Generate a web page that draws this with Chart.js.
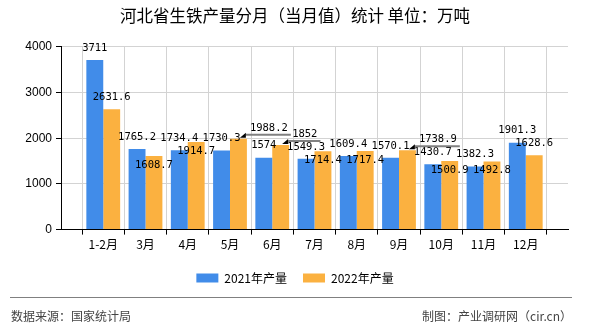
<!DOCTYPE html>
<html><head><meta charset="utf-8">
<script src="https://cdn.jsdelivr.net/npm/chart.js@4/dist/chart.umd.min.js"></script>
<style>html,body{margin:0;padding:0;background:#fff}#wrap{width:590px;height:330px;position:relative}</style>
</head><body><div id="wrap"><canvas id="c" width="590" height="330"></canvas></div>
<script>
const categories = ['1-2月','3月','4月','5月','6月','7月','8月','9月','10月','11月','12月'];
const output2021 = [3711,1765.2,1734.4,1730.3,1574,1549.3,1609.4,1570.1,1430.7,1382.3,1901.3];
const output2022 = [2631.6,1608.7,1914.7,1988.2,1852,1714.4,1717.4,1738.9,1500.9,1492.8,1628.6];
const seriesNames = ['2021年产量','2022年产量'];
const yTicks = [0,1000,2000,3000,4000];
const titleText = '河北省生铁产量分月（当月值）统计 单位：万吨';
const sourceText = '数据来源：国家统计局';
const creditText = '制图：产业调研网（cir.cn）';
const labelPlace2021 = categories.map(() => 'above');
const labelPlace2022 = ['above','inside','inside','leader','leader','inside','inside','leader','inside','inside','above'];

const cjk = '"Noto Sans CJK SC", "Liberation Sans", sans-serif';
const axisLabels = [''].concat(categories, ['']);
const pad = arr => [null].concat(arr, [null]);

const valueLabels = {
  id: 'valueLabels',
  afterDatasetsDraw(chart, args, opts) {
    const ctx = chart.ctx;
    ctx.save();
    ctx.font = '10.5px "DejaVu Sans Mono", monospace';
    ctx.fillStyle = '#000';
    ctx.textBaseline = 'middle';
    chart.data.datasets.forEach((ds, di) => {
      const meta = chart.getDatasetMeta(di);
      const places = opts.places[di];
      meta.data.forEach((bar, i) => {
        const v = ds.data[i];
        if (v == null) return;
        const mode = places[i - 1];
        const txt = String(v);
        const p = bar.getProps(['x', 'y', 'width'], true);
        if (mode === 'above') {
          ctx.textAlign = 'center';
          ctx.fillText(txt, p.x, p.y - 12);
        } else if (mode === 'inside') {
          ctx.textAlign = 'center';
          ctx.fillText(txt, p.x, p.y + 9);
        } else {
          const cx = p.x + p.width / 2;
          const tw = ctx.measureText(txt).width;
          const lx = cx + 3;
          const ly = p.y - 4;
          ctx.strokeStyle = '#808080';
          ctx.lineWidth = 2;
          ctx.beginPath();
          ctx.moveTo(cx - 1, ly);
          ctx.lineTo(lx + tw + 3, ly);
          ctx.stroke();
          ctx.fillStyle = '#000';
          ctx.beginPath();
          ctx.moveTo(cx - 7, p.y - 1);
          ctx.lineTo(cx - 1, p.y - 6);
          ctx.lineTo(cx - 1, p.y - 1);
          ctx.closePath();
          ctx.fill();
          ctx.textAlign = 'left';
          ctx.fillText(txt, lx, ly - 6.5);
        }
      });
    });
    ctx.restore();
  }
};

const footer = {
  id: 'footer',
  afterDraw(chart) {
    const ctx = chart.ctx;
    ctx.save();
    ctx.strokeStyle = '#808080';
    ctx.lineWidth = 1;
    ctx.beginPath();
    ctx.moveTo(10, 297.5);
    ctx.lineTo(572, 297.5);
    ctx.stroke();
    ctx.font = '12px ' + cjk;
    ctx.fillStyle = '#444';
    ctx.textBaseline = 'middle';
    ctx.textAlign = 'left';
    ctx.fillText(sourceText, 11, 316);
    ctx.textAlign = 'right';
    ctx.fillText(creditText, 572, 316);
    ctx.restore();
  }
};

new Chart(document.getElementById('c'), {
  type: 'bar',
  data: {
    labels: axisLabels,
    datasets: [
      { label: seriesNames[0], data: pad(output2021), backgroundColor: '#418ce9', borderWidth: 0 },
      { label: seriesNames[1], data: pad(output2022), backgroundColor: '#fbb140', borderWidth: 0 }
    ]
  },
  options: {
    responsive: false,
    devicePixelRatio: 1,
    animation: false,
    events: [],
    layout: { padding: { left: 0, right: 0, top: 0, bottom: 36 } },
    datasets: { bar: { categoryPercentage: 0.8, barPercentage: 1 } },
    scales: {
      x: {
        offset: false,
        afterFit: s => { s.height += 1; },
        grid: { display: true, color: '#d3d3d3', lineWidth: 1, tickLength: 5, tickColor: '#000', drawOnChartArea: true },
        border: { display: true, color: '#000', width: 1 },
        ticks: { color: '#000', font: { family: cjk, size: 12 }, padding: 3, maxRotation: 0, autoSkip: false }
      },
      y: {
        min: 0, max: 4000,
        afterBuildTicks: s => { s.ticks = yTicks.map(v => ({ value: v })); },
        afterFit: s => { s.width = 61; },
        grid: { color: '#d3d3d3', lineWidth: 1, tickLength: 5, tickColor: '#000' },
        border: { display: true, color: '#000', width: 1 },
        ticks: { color: '#000', font: { family: '"Liberation Sans", Arial, sans-serif', size: 12 }, padding: 4, callback: v => String(v) }
      },
      yRight: {
        position: 'right',
        display: true,
        min: 0, max: 4000,
        afterFit: s => { s.width = 22; },
        grid: { display: false, drawTicks: false },
        border: { display: false },
        ticks: { display: false }
      }
    },
    plugins: {
      title: { display: true, text: titleText, color: '#000', font: { family: cjk, size: 16.5, weight: 'normal' }, padding: { top: 6, bottom: 21 } },
      legend: {
        position: 'bottom',
        labels: { boxWidth: 22, boxHeight: 9, color: '#000', font: { family: cjk, size: 12 }, padding: 16 }
      },
      tooltip: { enabled: false },
      valueLabels: { places: [labelPlace2021, labelPlace2022] }
    }
  },
  plugins: [valueLabels, footer]
});
</script>
</body></html>
